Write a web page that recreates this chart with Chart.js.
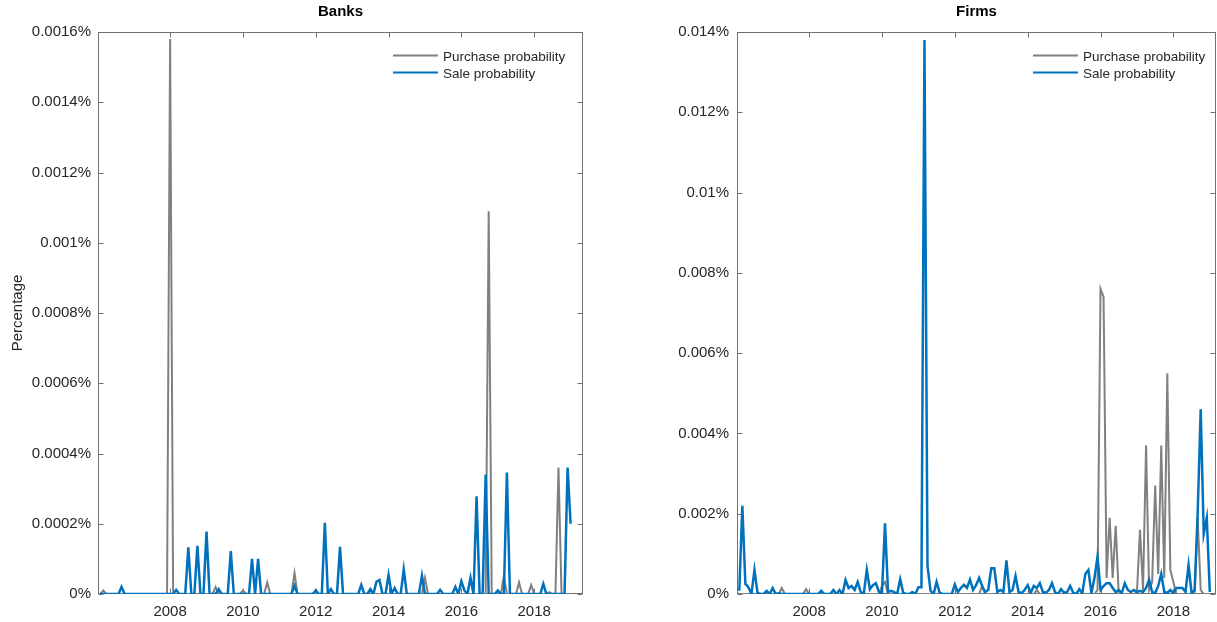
<!DOCTYPE html>
<html>
<head>
<meta charset="utf-8">
<title>Banks / Firms</title>
<script src="https://cdn.jsdelivr.net/npm/chart.js@4.4.0/dist/chart.umd.min.js"></script>
<style>
  html, body { margin: 0; padding: 0; background: #fff; overflow: hidden; }
  #wrap { position: relative; width: 1217px; height: 622px; }
  #banks-chart { position: absolute; left: 0; top: 0; }
  #firms-chart { position: absolute; left: 609px; top: 0; }
</style>
</head>
<body>
<div id="wrap">
  <canvas id="banks-chart" width="609" height="622"></canvas>
  <canvas id="firms-chart" width="608" height="622"></canvas>
</div>
<script>
// monthly observations, Feb 2006 .. Jan 2019 (decimal years)
const startYear = 2006;
const monthCount = 156;

const xTicks = [2008, 2010, 2012, 2014, 2016, 2018];

const banksTicks = [0, 0.0002, 0.0004, 0.0006, 0.0008, 0.001, 0.0012, 0.0014, 0.0016];
const banksTickLabels = ['0%', '0.0002%', '0.0004%', '0.0006%', '0.0008%', '0.001%', '0.0012%', '0.0014%', '0.0016%'];

const firmsTicks = [0, 0.002, 0.004, 0.006, 0.008, 0.01, 0.012, 0.014];
const firmsTickLabels = ['0%', '0.002%', '0.004%', '0.006%', '0.008%', '0.01%', '0.012%', '0.014%'];

// values in percent, one row per 12 months
const banksPurchase = [
  0, 0.00001, 0, 0, 0, 0, 0, 0, 0, 0, 0, 0,
  0, 0, 0, 0, 0, 0, 0, 0, 0, 0, 0, 0.00158,
  0, 0, 0, 0, 0, 0, 0, 0, 0, 0, 0, 0,
  0, 0, 0.00002, 0, 0, 0, 0, 0, 0, 0, 0, 0.00001,
  0, 0, 0, 0, 0, 0, 0, 0.000033, 0, 0, 0, 0,
  0, 0, 0, 0, 0.00006, 0, 0, 0, 0, 0, 0, 0,
  0, 0, 0, 0, 0, 0, 0, 0, 0, 0, 0, 0,
  0, 0, 0, 0, 0, 0.00001, 0, 0, 0, 0, 0, 0,
  0, 0, 0, 0, 0, 0, 0, 0, 0, 0, 0, 0.000046,
  0, 0, 0, 0, 0, 0, 0, 0, 0, 0, 0, 0,
  0, 0, 0, 0, 0, 0, 0, 0, 0.00109, 0, 0, 0,
  0, 0.00005, 0, 0, 0, 0, 0.000033, 0, 0, 0, 0.000026, 0,
  0, 0, 0, 0, 0.000005, 0, 0, 0.00036, 0, 0, 0, 0
];

const banksSale = [
  0, 0, 0, 0, 0, 0, 0, 0.00002, 0, 0, 0, 0,
  0, 0, 0, 0, 0, 0, 0, 0, 0, 0, 0, 0,
  0, 0.000012, 0, 0, 0, 0.000133, 0, 0, 0.000137, 0, 0, 0.000178,
  0, 0, 0, 0.000014, 0, 0, 0, 0.000122, 0, 0, 0, 0,
  0, 0, 0.0001, 0, 0.0001, 0, 0, 0, 0, 0, 0, 0,
  0, 0, 0, 0, 0.000024, 0, 0, 0, 0, 0, 0, 0.00001,
  0, 0, 0.000203, 0, 0.000014, 0, 0, 0.000134, 0, 0, 0, 0,
  0, 0, 0.000026, 0, 0, 0.000014, 0, 0.000035, 0.00004, 0, 0, 0.000054,
  0, 0.000017, 0, 0, 0.00007, 0, 0, 0, 0, 0, 0.000052, 0,
  0, 0, 0, 0, 0.000012, 0, 0, 0, 0, 0.00002, 0, 0.000036,
  0.00001, 0, 0.000046, 0, 0.000278, 0, 0, 0.00034, 0, 0, 0, 0.00001,
  0, 0, 0.000346, 0, 0, 0, 0, 0, 0, 0, 0, 0,
  0, 0, 0.000029, 0, 0, 0, 0, 0, 0, 0, 0.00036, 0.0002
];

const firmsPurchase = [
  0, 0, 0, 0, 0, 0, 0, 0, 0, 0, 0, 0,
  0, 0, 0.00015, 0, 0, 0, 0, 0, 0, 0, 0.00012, 0,
  0, 0, 0, 0, 0, 0, 0, 0, 0, 0, 0, 0,
  0, 0, 0, 0, 0, 0, 0, 0, 0, 0, 0, 0.0002,
  0.0003, 0, 0, 0, 0, 0, 0, 0, 0, 0, 0, 0,
  0, 0, 0, 0, 0, 0, 0, 0, 0, 0, 0, 0,
  0, 0, 0, 0, 0, 0, 0, 0, 0.0002, 0, 0, 0,
  0, 0, 0, 0, 0, 0, 0, 0, 0, 0, 0, 0,
  0, 0, 0.0001, 0, 0, 0, 0, 0, 0, 0, 0, 0,
  0, 0, 0, 0, 0, 0, 0, 0, 0, 0, 0.0001, 0.0076,
  0.0074, 0.0004, 0.0019, 0.0004, 0.0017, 0, 0, 0, 0, 0, 0, 0.00005,
  0.0016, 0.0001, 0.0037, 0.0001, 0.0003, 0.0027, 0.0005, 0.0037, 0.0004, 0.0055, 0.0006, 0.0003,
  0, 0, 0, 0, 0, 0, 0, 0.0019, 0.0001, 0, 0, 0
];

const firmsSale = [
  0.00008, 0.0022, 0.00025, 0.00017, 0, 0.0006, 0.00003, 0, 0, 0.00008, 0, 0.00015,
  0, 0.00002, 0, 0, 0, 0, 0, 0, 0, 0, 0, 0,
  0, 0, 0, 0.00008, 0, 0, 0, 0.0001, 0, 0.0001, 0, 0.00035,
  0.00015, 0.0002, 0.0001, 0.0003, 0.00005, 0, 0.0006, 0.00012, 0.00022, 0.00027, 0.00005, 0.00003,
  0.00176, 0.00005, 0.00008, 0.00005, 0, 0.00037, 0.00003, 0, 0, 0.00005, 0, 0.00017,
  0.00017, 0.0138, 0.0007, 0.00008, 0, 0.0003, 0.00003, 0, 0, 0, 0, 0.00024,
  0.00005, 0.00015, 0.00023, 0.00015, 0.00036, 0.0001, 0.00022, 0.0004, 0.0002, 0.00005, 0.0001, 0.00064,
  0.00064, 0.00005, 0.0001, 0.00005, 0.00084, 0.00005, 0.0001, 0.00045, 0.00005, 0.00002, 0.0001, 0.00022,
  0.00003, 0.0002, 0.00015, 0.00027, 0.00005, 0.00003, 0.0001, 0.00027, 0.00005, 0, 0.00012, 0.00003,
  0.00005, 0.0002, 0.00003, 0, 0.00012, 0.00002, 0.0005, 0.0006, 0.00002, 0.0004, 0.00093, 0.0001,
  0.0002, 0.00027, 0.00027, 0.00015, 0.00005, 0.0001, 0.00003, 0.00027, 0.0001, 0.00005, 0.0001, 0.00005,
  0.00008, 0.00005, 0.00015, 0.00035, 0.00005, 0.00002, 0.0002, 0.0005, 0.00005, 0.00003, 0.0001, 0.00002,
  0.00015, 0.00015, 0.00015, 0.00005, 0.00072, 0.00002, 0.0001, 0.002, 0.0046, 0.0015, 0.0019, 0.00005
];

const FONT = "'Liberation Sans', Arial, Helvetica, sans-serif";
const TEXT = '#262626';
const AXIS = '#707070';
const GREY = '#808080';
const BLUE = '#0072BD';

Chart.defaults.font.family = FONT;
Chart.defaults.color = TEXT;

const months = [];
for (let i = 0; i < monthCount; i++) {
  months.push(startYear + (i + 1) / 12);
}

// axes box with inward ticks, matlab style
const boxPlugin = {
  id: 'boxPlugin',
  beforeDatasetsDraw(chart) {
    const { ctx, chartArea: a, scales } = chart;
    const L = Math.round(a.left) + 0.5;
    const R = Math.round(a.right) - 0.5;
    const T = Math.round(a.top) + 0.5;
    const B = Math.round(a.bottom) - 0.5;
    ctx.save();
    ctx.strokeStyle = AXIS;
    ctx.lineWidth = 1;
    ctx.strokeRect(L, T, R - L, B - T);
    ctx.beginPath();
    scales.x.ticks.forEach((t) => {
      const px = Math.round(scales.x.getPixelForValue(t.value)) + 0.5;
      ctx.moveTo(px, B); ctx.lineTo(px, B - 5);
      ctx.moveTo(px, T); ctx.lineTo(px, T + 5);
    });
    scales.y.ticks.forEach((t) => {
      const py = Math.round(scales.y.getPixelForValue(t.value)) + 0.5;
      ctx.moveTo(L, py); ctx.lineTo(L + 5, py);
      ctx.moveTo(R, py); ctx.lineTo(R - 5, py);
    });
    ctx.stroke();
    ctx.restore();
  }
};

// legend drawn inside the top right corner of the plot
const insideLegend = {
  id: 'insideLegend',
  afterDraw(chart, args, opts) {
    const { ctx, chartArea } = chart;
    const x = chartArea.right - opts.fromRight;
    ctx.save();
    ctx.font = '13.5px ' + FONT;
    ctx.textBaseline = 'middle';
    ctx.textAlign = 'left';
    chart.data.datasets.forEach((ds, i) => {
      const y = chartArea.top + 25 + i * 17;
      ctx.strokeStyle = ds.borderColor;
      ctx.lineWidth = 2;
      ctx.beginPath();
      ctx.moveTo(x - 50, y - 1.5);
      ctx.lineTo(x - 5, y - 1.5);
      ctx.stroke();
      ctx.fillStyle = TEXT;
      ctx.fillText(ds.label, x, y);
    });
    ctx.restore();
  }
};

function makeChart(canvasId, cfg) {
  return new Chart(document.getElementById(canvasId), {
    type: 'line',
    data: {
      datasets: [
        {
          label: 'Purchase probability',
          data: cfg.purchase.map((v, i) => ({ x: months[i], y: v })),
          borderColor: GREY,
          borderWidth: 2,
          pointRadius: 0,
          tension: 0,
          order: 1,
        },
        {
          label: 'Sale probability',
          data: cfg.sale.map((v, i) => ({ x: months[i], y: v })),
          borderColor: BLUE,
          borderWidth: 2.5,
          pointRadius: 0,
          tension: 0,
          order: 0,
        },
      ],
    },
    options: {
      responsive: false,
      animation: false,
      devicePixelRatio: 1,
      layout: { padding: { top: 0, right: cfg.padRight, bottom: 0, left: 0 } },
      plugins: {
        legend: { display: false },
        tooltip: { enabled: false },
        title: {
          display: true,
          text: cfg.title,
          fullSize: false,
          color: '#000',
          font: { size: 15, weight: 'bold' },
          padding: { top: 3, bottom: 11 },
        },
        insideLegend: { fromRight: cfg.legendOffset },
      },
      scales: {
        x: {
          type: 'linear',
          min: cfg.xMin,
          max: cfg.xMax,
          afterBuildTicks: (scale) => { scale.ticks = xTicks.map((v) => ({ value: v })); },
          afterFit: (scale) => { scale.height = 28; },
          grid: { display: false, drawTicks: false },
          border: { display: false },
          ticks: {
            autoSkip: false,
            maxRotation: 0,
            padding: 9,
            color: TEXT,
            font: { size: 15 },
            callback: (v) => String(v),
          },
        },
        y: {
          min: 0,
          max: cfg.yTicks[cfg.yTicks.length - 1],
          afterBuildTicks: (scale) => { scale.ticks = cfg.yTicks.map((v) => ({ value: v })); },
          afterFit: (scale) => { scale.width = cfg.yWidth; },
          grid: { display: false, drawTicks: false },
          border: { display: false },
          ticks: {
            padding: cfg.yPad,
            color: TEXT,
            font: { size: 15 },
            callback: (v, i) => cfg.yLabels[i],
          },
          title: {
            display: !!cfg.yTitle,
            text: cfg.yTitle || '',
            color: TEXT,
            font: { size: 15 },
            padding: { top: 9, bottom: 0 },
          },
        },
      },
    },
    plugins: [boxPlugin, insideLegend],
  });
}

document.addEventListener('DOMContentLoaded', () => {
  makeChart('banks-chart', {
    title: 'Banks',
    purchase: banksPurchase,
    sale: banksSale,
    yTicks: banksTicks,
    yLabels: banksTickLabels,
    yTitle: 'Percentage',
    yWidth: 98,
    yPad: 7,
    padRight: 26,
    xMin: 2006.02,
    xMax: 2019.34,
    legendOffset: 140,
  });

  makeChart('firms-chart', {
    title: 'Firms',
    purchase: firmsPurchase,
    sale: firmsSale,
    yTicks: firmsTicks,
    yLabels: firmsTickLabels,
    yWidth: 128,
    yPad: 8,
    padRight: 1,
    xMin: 2006.02,
    xMax: 2019.17,
    legendOffset: 133,
  });
});
</script>
</body>
</html>
